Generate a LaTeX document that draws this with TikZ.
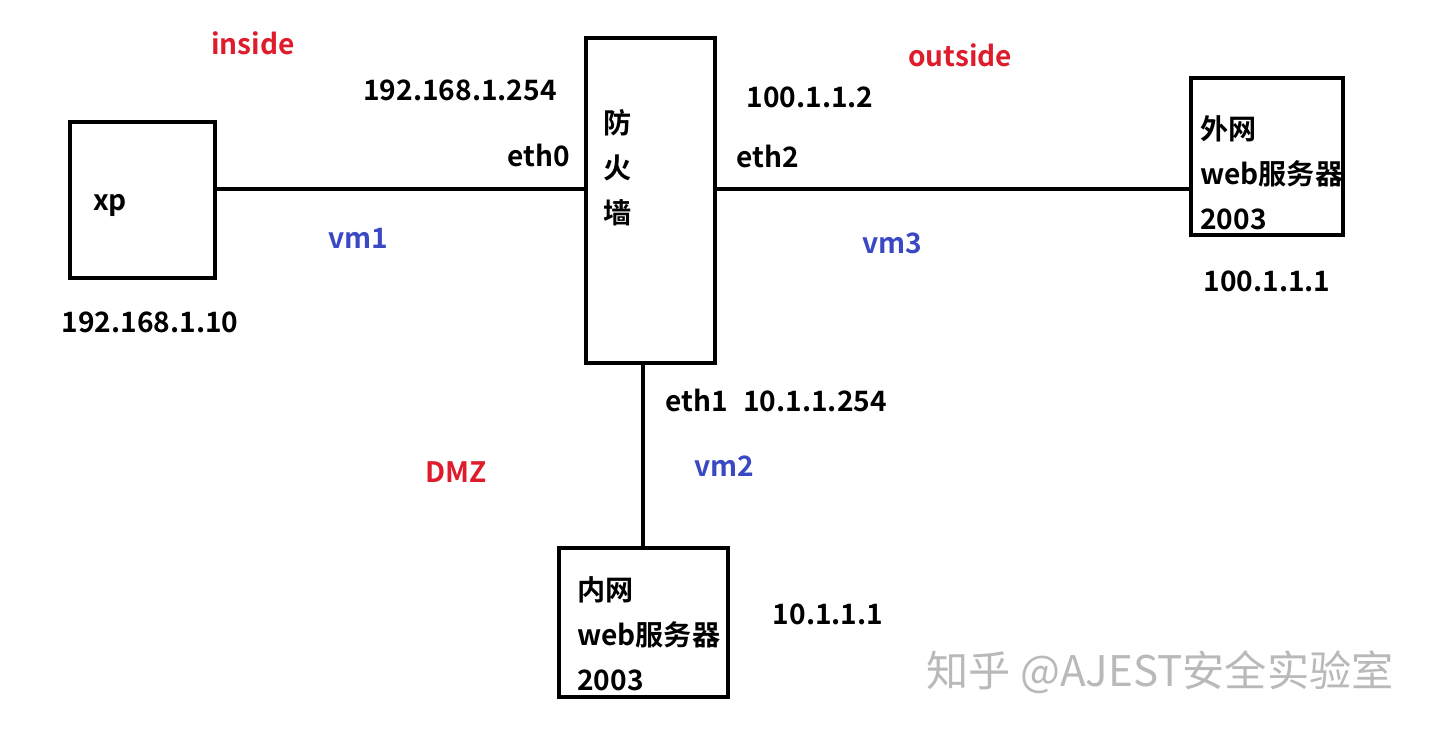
\documentclass[tikz,border=0pt]{standalone}
\usepackage{fontspec}
\setmainfont{Noto Sans CJK SC}[BoldFont={Noto Sans CJK SC Bold}]
\newfontfamily\markfont{Noto Sans CJK SC}
\usepackage{xcolor}
\definecolor{zonered}{RGB}{222,28,44}
\definecolor{vmblue}{RGB}{58,72,196}
\definecolor{markgray}{RGB}{185,185,185}
\usetikzlibrary{positioning}
\begin{document}
\begin{tikzpicture}
  [x=0.02cm,y=-0.02cm,
   hostbox/.style={draw,rectangle,line width=2.4pt,inner sep=0pt},
   wire/.style={line width=2.4pt},
   txt/.style={inner sep=0pt,font=\fontsize{16}{25.5}\selectfont\bfseries},
   zone/.style={txt,text=zonered},
   vmlabel/.style={txt,text=vmblue}]
  \useasboundingbox (0,0) rectangle (1429,729);
  \node (xp) at (142.5,200) [hostbox,minimum width=2.9cm,minimum height=3.12cm] {};
  \node (fw) at (650.5,200.5) [hostbox,minimum width=2.58cm,minimum height=6.5cm] {};
  \node (outerweb) at (1267,156.5) [hostbox,minimum width=3.04cm,minimum height=3.14cm] {};
  \node (innerweb) at (643.5,622.5) [hostbox,minimum width=3.38cm,minimum height=2.98cm] {};
  \node (xptext) at (110,205) [txt] {xp};
  \node (fwtext) at (618,168) [txt,align=center] {防\\火\\墙};
  \node (outertext) at (1200,173) [txt,anchor=west,align=left] {外网\\web服务器\\2003};
  \node (innertext) at (577,634) [txt,anchor=west,align=left] {内网\\web服务器\\2003};
  \draw [wire] (xp.east |- 0,189) -- (fw.west |- 0,189);
  \draw [wire] (fw.east |- 0,189) -- (outerweb.west |- 0,189);
  \draw [wire] (fw.south -| 643,0) -- (innerweb.north -| 643,0);
  \node (insidelabel) at (253,43) [zone] {inside};
  \node (outsidelabel) at (960,55) [zone] {outside};
  \node (dmzlabel) at (456,472) [zone] {DMZ};
  \node (vm1label) at (358,238) [vmlabel] {vm1};
  \node (vm2label) at (724,466) [vmlabel] {vm2};
  \node (vm3label) at (892,243) [vmlabel] {vm3};
  \node (eth0ip) at (460,90) [txt] {192.168.1.254};
  \node (eth0label) at (539,155) [txt] {eth0};
  \node (xpip) at (150,322) [txt] {192.168.1.10};
  \node (eth2ip) at (810,97) [txt] {100.1.1.2};
  \node (eth2label) at (768,156) [txt] {eth2};
  \node (outerip) at (1267,281) [txt] {100.1.1.1};
  \node (eth1label) at (697,400) [txt] {eth1};
  \node (eth1ip) at (815,401) [txt] {10.1.1.254};
  \node (innerip) at (828,614) [txt] {10.1.1.1};
  \node (watermark) at (1160,672) [inner sep=0pt,text=markgray,font=\fontsize{24}{26}\markfont] {知乎 @AJEST安全实验室};
\end{tikzpicture}
\end{document}
